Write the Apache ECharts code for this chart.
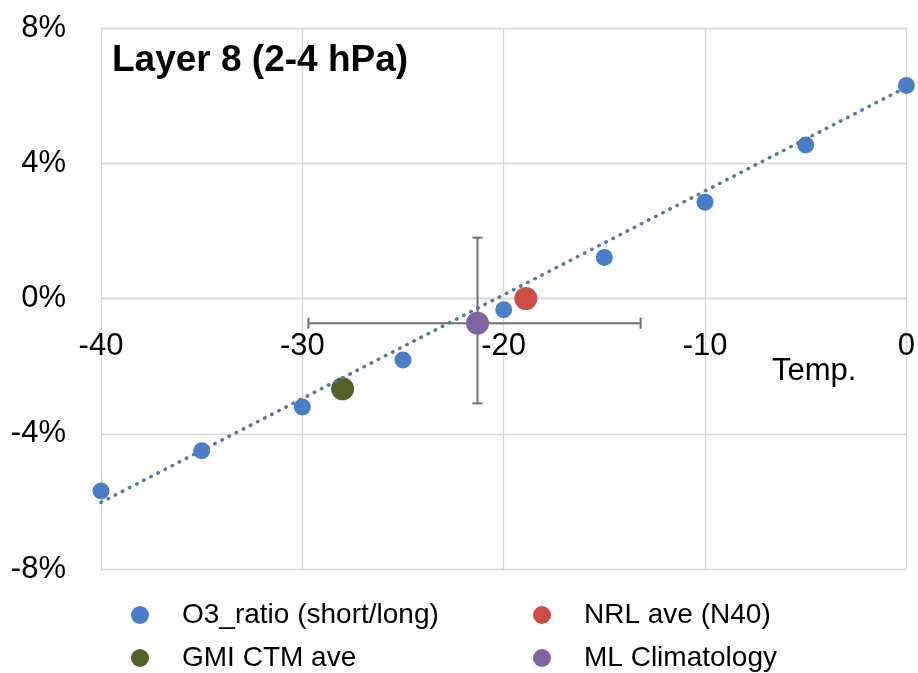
<!DOCTYPE html>
<html>
<head>
<meta charset="utf-8">
<script src="https://cdn.jsdelivr.net/npm/echarts@6/dist/echarts.min.js"></script>
<style>
  html, body { margin: 0; padding: 0; background: #fff; }
  #chart { width: 918px; height: 673px; }
</style>
</head>
<body>
<div id="chart"></div>
<script>
// temperature change (x) vs ozone ratio change in % (y)
let tempX = [-40, -35, -30, -25, -20, -15, -10, -5, 0];
let o3Ratio = [-5.69, -4.50, -3.21, -1.82, -0.33, 1.21, 2.85, 4.54, 6.30];

let nrlAve = [[-18.9, 0.0]];
let gmiCtmAve = [[-28.0, -2.67]];
let mlClim = [[-21.3, -0.73]];

// error bars around ML Climatology
let mlErrTemp = [-29.7, -13.2];
let mlErrRatio = [-3.1, 1.8];

// linear trend of O3_ratio
let trendX = [-40, 0];
let trendY = [-6.03, 6.25];

let xTicks = [-40, -30, -20, -10, 0];
let yTicks = [-8, -4, 0, 4, 8];

const FONT = "Liberation Sans";
const GRID_TOP = 28, GRID_BOTTOM = 104, H = 673;

let o3Data = tempX.map((t, i) => [t, o3Ratio[i]]);
let trendData = trendX.map((t, i) => [t, trendY[i]]);
let errData = mlClim.map(p => [p[0], p[1], mlErrTemp[0], mlErrTemp[1], mlErrRatio[0], mlErrRatio[1]]);

// x axis sits on the 0% line: shift it up from the grid bottom
let plotH = H - GRID_TOP - GRID_BOTTOM;
let zeroFrac = (0 - yTicks[0]) / (yTicks[yTicks.length - 1] - yTicks[0]);
let xAxisOffset = -plotH * zeroFrac;

var myChart = echarts.init(document.getElementById("chart"));
myChart.setOption({
    animation: false,
    title: {
        text: "Layer 8 (2-4 hPa)",
        left: 112,
        top: 42,
        padding: 0,
        textStyle: {fontFamily: FONT, fontSize: 37, fontWeight: "bold", color: "#000"}
    },
    graphic: [{
        type: "text",
        left: 772,
        top: 356,
        style: {text: "Temp.", fontFamily: FONT, fontSize: 31, fill: "#000"}
    }],
    legend: [{
        orient: "vertical",
        left: 131,
        top: 600,
        padding: 0,
        itemGap: 13,
        itemWidth: 74,
        itemHeight: 18,
        icon: "circle",
        textStyle: {fontFamily: FONT, fontSize: 28, lineHeight: 30, color: "#000"},
        data: ["O3_ratio (short/long)", "GMI CTM ave"]
    }, {
        orient: "vertical",
        left: 533,
        top: 600,
        padding: 0,
        itemGap: 13,
        itemWidth: 74,
        itemHeight: 18,
        icon: "circle",
        textStyle: {fontFamily: FONT, fontSize: 28, lineHeight: 30, color: "#000"},
        data: ["NRL ave (N40)", "ML Climatology"]
    }],
    grid: {
        left: 101,
        top: GRID_TOP,
        right: 6,
        bottom: GRID_BOTTOM
    },
    xAxis: {
        type: "value",
        min: xTicks[0],
        max: xTicks[xTicks.length - 1],
        interval: 10,
        offset: xAxisOffset,
        axisLine: {onZero: false, lineStyle: {color: "#d6d6d6", width: 1.3}},
        axisTick: {show: false},
        axisLabel: {margin: 32, fontFamily: FONT, fontSize: 31, color: "#000"},
        splitLine: {lineStyle: {color: "#d6d6d6", width: 1.3}}
    },
    yAxis: {
        type: "value",
        min: yTicks[0],
        max: yTicks[yTicks.length - 1],
        interval: 4,
        axisLine: {show: false},
        axisTick: {show: false},
        axisLabel: {margin: 35, fontFamily: FONT, fontSize: 31, color: "#000", formatter: "{value}%"},
        splitLine: {lineStyle: {color: "#d6d6d6", width: 1.3}}
    },
    series: [{
        name: "trend",
        type: "line",
        data: trendData,
        symbol: "none",
        z: 4,
        lineStyle: {color: "#4f7bab", width: 3.5, type: [0.5, 7.5], cap: "round"}
    }, {
        name: "errbar",
        type: "custom",
        z: 2,
        renderItem: (params, api) => {
            var c = api.coord([api.value(0), api.value(1)]);
            var xl = api.coord([api.value(2), api.value(1)]);
            var xh = api.coord([api.value(3), api.value(1)]);
            var yl = api.coord([api.value(0), api.value(4)]);
            var yh = api.coord([api.value(0), api.value(5)]);
            var st = {stroke: "#6f6f6f", lineWidth: 2};
            return {
                type: "group",
                children: [
                    {type: "line", shape: {x1: xl[0], y1: c[1], x2: xh[0], y2: c[1]}, style: st},
                    {type: "line", shape: {x1: xl[0], y1: c[1] - 5.5, x2: xl[0], y2: c[1] + 5.5}, style: st},
                    {type: "line", shape: {x1: xh[0], y1: c[1] - 5.5, x2: xh[0], y2: c[1] + 5.5}, style: st},
                    {type: "line", shape: {x1: c[0], y1: yl[1], x2: c[0], y2: yh[1]}, style: st},
                    {type: "line", shape: {x1: c[0] - 5, y1: yl[1], x2: c[0] + 5, y2: yl[1]}, style: st},
                    {type: "line", shape: {x1: c[0] - 5, y1: yh[1], x2: c[0] + 5, y2: yh[1]}, style: st}
                ]
            };
        },
        data: errData
    }, {
        name: "O3_ratio (short/long)",
        type: "scatter",
        data: o3Data,
        symbolSize: 17,
        z: 3,
        itemStyle: {color: "#4a7ec7", opacity: 1}
    }, {
        name: "NRL ave (N40)",
        type: "scatter",
        data: nrlAve,
        symbolSize: 23,
        z: 3,
        itemStyle: {color: "#cc4c47", opacity: 1}
    }, {
        name: "GMI CTM ave",
        type: "scatter",
        data: gmiCtmAve,
        symbolSize: 23,
        z: 3,
        itemStyle: {color: "#4f6228", opacity: 1}
    }, {
        name: "ML Climatology",
        type: "scatter",
        data: mlClim,
        symbolSize: 23,
        z: 3,
        itemStyle: {color: "#8064a2", opacity: 1}
    }]
});
</script>
</body>
</html>
